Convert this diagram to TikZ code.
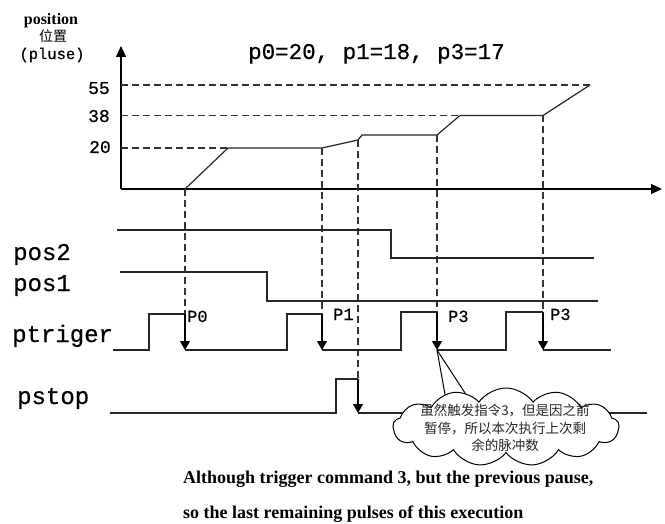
\documentclass[tikz,border=0pt]{standalone}
\usepackage{fontspec}
\setmainfont{Liberation Serif}
\newfontfamily\monof[FakeBold=0.6]{Liberation Mono}
\newfontfamily\cjk{Noto Sans CJK SC}
\usetikzlibrary{arrows.meta,shapes.symbols}
\begin{document}
\begin{tikzpicture}[x=1pt,y=-1pt,
  sig/.style={line width=1.2pt, draw=black!85},
  dsh/.style={line width=1.1pt, draw=black!80, dash pattern=on 7pt off 4pt},
  axis/.style={line width=1.2pt, -{Triangle[width=10pt,length=11pt]}},
  trig/.style={line width=1.2pt, -{Triangle[width=10pt,length=9pt]}},
  lbl/.style={font=\monof\fontsize{24}{24}\selectfont, anchor=base west, inner sep=0pt},
  tick/.style={font=\monof\fontsize{18}{18}\selectfont, anchor=base east, inner sep=0pt},
  plbl/.style={font=\monof\fontsize{17}{17}\selectfont, anchor=base west, inner sep=0pt},
  note/.style={font=\bfseries\fontsize{18}{18}\selectfont, anchor=base west, inner sep=0pt}
]
\useasboundingbox (0,0) rectangle (665,524);

% axis title
\node[font=\bfseries\fontsize{16}{16}\selectfont, inner sep=0pt] (ptitle) at (51,21) {position};
\node[font=\cjk\fontsize{14}{14}\selectfont, inner sep=0pt] (pzh) at (53,36) {位置};
\node[font=\monof\fontsize{15.5}{15.5}\selectfont, inner sep=0pt] (punit) at (52,55) {(pluse)};

% heading
\node[font=\monof\fontsize{22.5}{22.5}\selectfont, anchor=base west, inner sep=0pt] (head) at (248,59) {p0=20, p1=18, p3=17};

% axes
\coordinate (O) at (121,189);
\coordinate (ytip) at (121,46);
\coordinate (xtip) at (662,189);
\draw[axis] (O) -- (ytip);
\draw[axis] (O) -- (xtip);

% tick labels
\node[tick] (t55) at (110,94) {55};
\node[tick] (t38) at (110,122) {38};
\node[tick] (t20) at (111,153) {20};

% dashed levels
\draw[dsh] (121,85) -- (590,85);
\draw[dsh] (121,115.5) -- (460,115.5);
\draw[dsh] (121,148) -- (228,148);

% position curve
\draw[sig] (185,189) -- (228,148) -- (322,148) -- (358,140) -- (362,135) -- (437,135) -- (460,115.5) -- (543,115.5) -- (590,85);

% vertical dashed projections
\draw[dsh] (185,189) -- (185,314);
\draw[dsh] (322,148) -- (322,314);
\draw[dsh] (358,140) -- (358,379);
\draw[dsh] (437,135) -- (437,312);
\draw[dsh] (543,115.5) -- (543,312);

% pos2
\draw[sig] (117,230) -- (391,230) -- (391,258) -- (594,258);
% pos1
\draw[sig] (120,272) -- (267,272) -- (267,301) -- (598,301);
% ptriger
\draw[sig] (113,350) -- (149,350) -- (149,314) -- (185,314);
\draw[sig] (185,350) -- (287,350) -- (287,314) -- (322,314);
\draw[sig] (322,350) -- (401,350) -- (401,312) -- (437,312);
\draw[sig] (437,350) -- (506,350) -- (506,312) -- (543,312);
\draw[sig] (543,350) -- (611,350);
\draw[trig] (185,314) -- (185,350);
\draw[trig] (322,314) -- (322,350);
\draw[trig] (437,312) -- (437,350);
\draw[trig] (543,312) -- (543,350);
% pstop
\draw[sig] (110,413) -- (336,413) -- (336,379) -- (358,379);
\draw[sig] (358,413) -- (647,413);
\draw[trig] (358,379) -- (358,413);

% signal labels
\node[lbl] (lpos2) at (13,260) {pos2};
\node[lbl] (lpos1) at (13,291) {pos1};
\node[lbl] (lptrig) at (12,342) {ptriger};
\node[lbl] (lpstop) at (17,404) {pstop};

% pulse labels
\node[plbl] (lp0) at (187,322) {P0};
\node[plbl] (lp1) at (333,320) {P1};
\node[plbl] (lp3a) at (448,322) {P3};
\node[plbl] (lp3b) at (550,320) {P3};

% callout
\coordinate (ctip) at (437,350);
\draw[line width=1pt] (ctip) -- (446,400);
\draw[line width=1pt] (ctip) -- (467,396);
\node[cloud, cloud puffs=13, cloud puff arc=110, cloud ignores aspect, draw, line width=1pt, fill=white,
      minimum width=226pt, minimum height=78pt, inner sep=0pt] (cloud) at (506,427) {};
\node[font=\cjk\fontsize{13.5}{17.5}\selectfont, align=center, inner sep=0pt, text=black!85] (ctext) at (505,428)
  {虽然触发指令3，但是因之前\\暂停，所以本次执行上次剩\\余的脉冲数};

% bottom note
\node[note] (n1) at (183,483) {Although trigger command 3, but the previous pause,};
\node[note] (n2) at (183,518) {so the last remaining pulses of this execution};
\end{tikzpicture}
\end{document}
